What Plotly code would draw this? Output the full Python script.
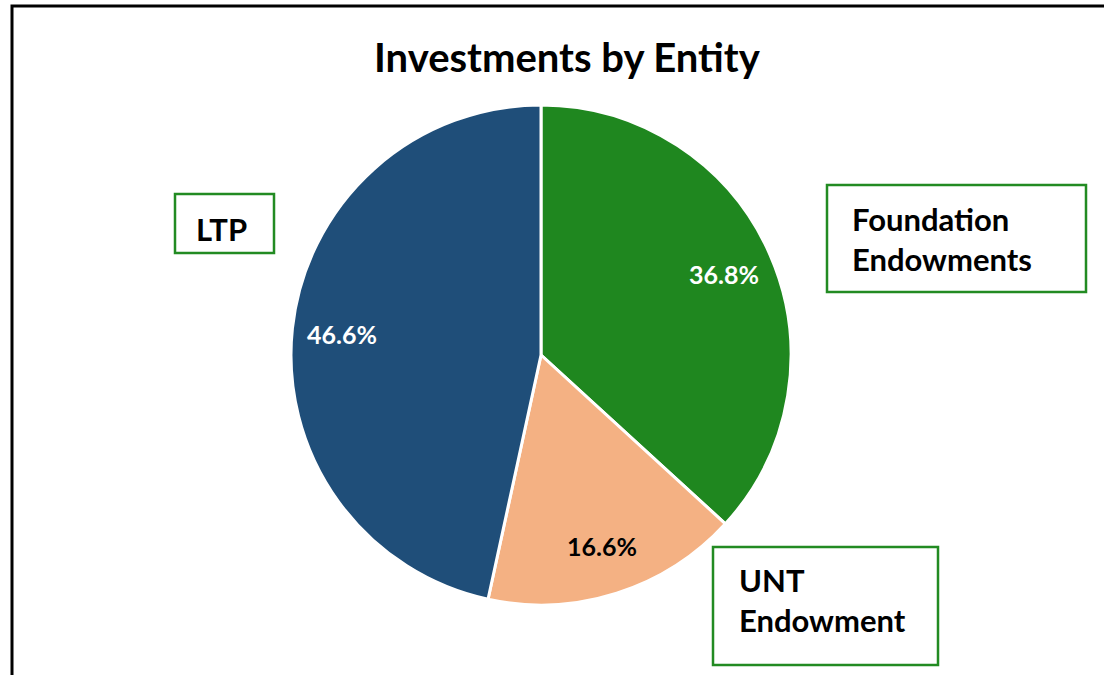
import math
import plotly.graph_objects as go

labels = ["Foundation Endowments", "UNT Endowment", "LTP"]
values = [36.8, 16.6, 46.6]
colors = ["#1F871F", "#F4B183", "#1F4E79"]
text_colors = ["white", "black", "white"]
box_labels = ["<b>Foundation<br>Endowments</b>", "<b>UNT<br>Endowment</b>", "<b>LTP</b>"]
title = "Investments by Entity"

W, H = 1104, 675
FONT = "Lato, 'Open Sans', sans-serif"

def px(x):
    return x / W

def py(y):
    return 1 - y / H

cx, cy, r = 541, 355, 250

fig = go.Figure(go.Pie(
    labels=labels, values=values, sort=False, direction="clockwise", rotation=0,
    marker=dict(colors=colors, line=dict(color="white", width=3)),
    textinfo="none",
    domain=dict(x=[px(cx - r), px(cx + r)], y=[py(cy + r), py(cy - r)]),
    showlegend=False, hoverinfo="label+percent",
))

shapes = [
    dict(type="rect", xref="paper", yref="paper", x0=px(12), x1=px(1130), y0=py(710), y1=py(6),
         line=dict(color="black", width=3), fillcolor="rgba(0,0,0,0)"),
]
boxes = [
    (827, 185, 1086, 292),
    (713, 547, 938, 665),
    (175, 194, 274, 253),
]
for x0, y0, x1, y1 in boxes:
    shapes.append(dict(type="rect", xref="paper", yref="paper", x0=px(x0), x1=px(x1),
                       y0=py(y1), y1=py(y0), line=dict(color="#228B22", width=2.5),
                       fillcolor="white"))

annotations = [
    dict(text="<b>" + title + "</b>", x=px(567), y=py(57), xref="paper", yref="paper",
         showarrow=False, font=dict(family=FONT, size=40, color="black"),
         xanchor="center", yanchor="middle"),
]

# percentage labels at 80% of the radius, along each slice's mid angle
total = sum(values)
cum = 0.0
for v, tc in zip(values, text_colors):
    mid = (cum + v / 2) / total * 2 * math.pi
    cum += v
    lx = cx + 0.8 * r * math.sin(mid)
    ly = cy - 0.8 * r * math.cos(mid)
    annotations.append(dict(text="<b>%.1f%%</b>" % (v / total * 100), x=px(lx), y=py(ly),
                            xref="paper", yref="paper", showarrow=False,
                            font=dict(family=FONT, size=25, color=tc),
                            xanchor="center", yanchor="middle"))

label_pos = [(850, 239, "left"), (737, 600, "left"), (221, 229, "center")]
for txt, (x, y, anc) in zip(box_labels, label_pos):
    annotations.append(dict(text=txt, x=px(x), y=py(y), xref="paper", yref="paper",
                            showarrow=False, font=dict(family=FONT, size=31, color="black"),
                            align="left", xanchor=anc, yanchor="middle"))

fig.update_layout(
    width=W, height=H, margin=dict(l=0, r=0, t=0, b=0),
    paper_bgcolor="white", plot_bgcolor="white",
    shapes=shapes, annotations=annotations,
    font=dict(family=FONT),
)
fig.write_html("out.html", config={"displayModeBar": False},
               post_script="document.body.style.margin='0';document.body.style.overflow='hidden';")
